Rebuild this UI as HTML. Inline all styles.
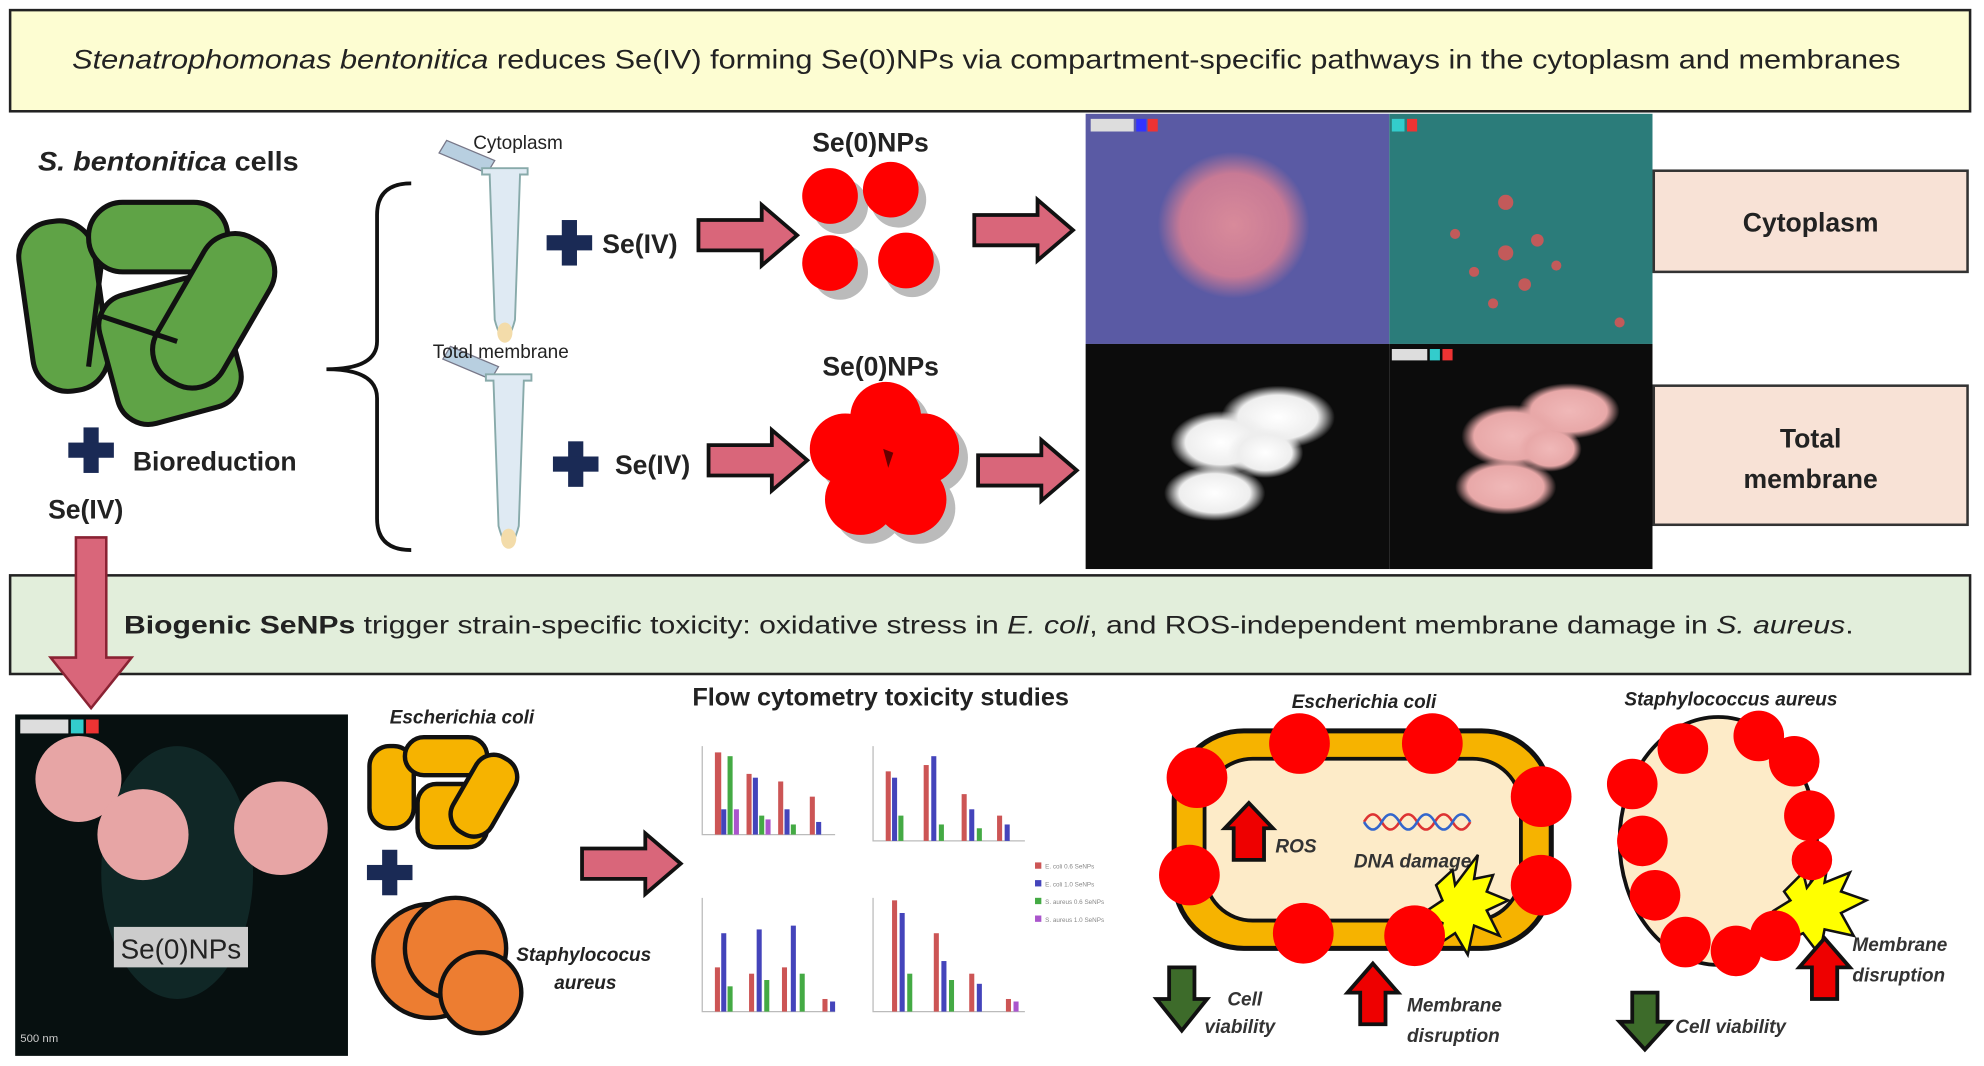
<!DOCTYPE html>
<html><head><meta charset="utf-8"><style>
html,body{margin:0;padding:0;background:#fff;width:1984px;height:1066px;overflow:hidden}
svg{display:block}
text{font-family:"Liberation Sans",sans-serif}
</style></head><body>
<svg width="1984" height="1066" viewBox="0 0 1568 843" preserveAspectRatio="none" xmlns="http://www.w3.org/2000/svg">
<defs>
<radialGradient id="pk" cx="50%" cy="50%" r="50%"><stop offset="0" stop-color="#d88a9a"/><stop offset="0.7" stop-color="#c87a95"/><stop offset="1" stop-color="#c87a95" stop-opacity="0"/></radialGradient>
<radialGradient id="wh" cx="50%" cy="50%" r="50%"><stop offset="0" stop-color="#fff"/><stop offset="0.7" stop-color="#eee"/><stop offset="1" stop-color="#eee" stop-opacity="0"/></radialGradient>
<radialGradient id="pk2" cx="50%" cy="50%" r="50%"><stop offset="0" stop-color="#f0b8b8"/><stop offset="0.75" stop-color="#e8a8a8"/><stop offset="1" stop-color="#e8a8a8" stop-opacity="0"/></radialGradient>
<g id="arr"><path d="M0,-12 L50,-12 L50,-24 L78,0 L50,24 L50,12 L0,12 Z" fill="#d9667a" stroke="#111" stroke-width="3"/></g>
<g id="tube"><path d="M-10,4 L-48,-12 L-42,-22 L-4,-6Z" fill="#b8cfe0" stroke="#778" stroke-width="1"/><path d="M-14,0 L22,0 L22,5 L16,5 L12,120 Q4,150 -4,120 L-8,5 L-14,5Z" fill="#dfeaf3" stroke="#8aa" stroke-width="1.5"/><ellipse cx="4" cy="130" rx="6" ry="8" fill="#f3dcaa"/></g>
<g id="plus"><rect x="-6" y="-18" width="12" height="36" fill="#1a2a55"/><rect x="-18" y="-6" width="36" height="12" fill="#1a2a55"/></g>
</defs>
<rect x="8" y="8" width="1549" height="80" fill="#fdfdd2" stroke="#222" stroke-width="2"/>
<text x="57" y="54" font-size="21" textLength="1445" lengthAdjust="spacingAndGlyphs" fill="#222"><tspan font-style="italic">Stenatrophomonas bentonitica</tspan> reduces Se(IV) forming Se(0)NPs via compartment-specific pathways in the cytoplasm and membranes</text>
<text x="30" y="135" font-size="21" font-weight="bold" fill="#222" textLength="206" lengthAdjust="spacingAndGlyphs"><tspan font-style="italic">S. bentonitica</tspan> cells</text>
<g fill="#5fa346" stroke="#111" stroke-width="4">
<rect x="20" y="175" width="60" height="135" rx="28" transform="rotate(-8 47 240)"/>
<rect x="70" y="160" width="110" height="55" rx="27"/>
<rect x="85" y="225" width="100" height="105" rx="25" transform="rotate(-15 135 280)"/>
<rect x="138" y="180" width="60" height="130" rx="28" transform="rotate(30 167 247)"/>
<path d="M80,210 L70,290 M80,250 L140,270" fill="none"/>
</g>
<use href="#plus" x="72" y="356"/>
<text x="105" y="372" font-size="21" font-weight="bold" fill="#222">Bioreduction</text>
<text x="38" y="410" font-size="21" font-weight="bold" fill="#222">Se(IV)</text>
<path d="M325,145 Q298,145 298,170 L298,270 Q298,292 258,292 Q298,292 298,315 L298,410 Q298,435 325,435" fill="none" stroke="#111" stroke-width="3"/>
<use href="#tube" x="395" y="133"/>
<text x="374" y="118" font-size="15" fill="#222">Cytoplasm</text>
<use href="#tube" x="398" y="296"/>
<text x="342" y="283" font-size="15" fill="#222">Total membrane</text>
<use href="#plus" x="450" y="192"/>
<text x="476" y="200" font-size="21" font-weight="bold" fill="#222">Se(IV)</text>
<use href="#arr" x="552" y="186"/>
<use href="#plus" x="455" y="367"/>
<text x="486" y="375" font-size="21" font-weight="bold" fill="#222">Se(IV)</text>
<use href="#arr" x="560" y="364"/>
<text x="688" y="120" font-size="21" font-weight="bold" text-anchor="middle" fill="#222">Se(0)NPs</text>
<g fill="#bbb"><circle cx="664" cy="163" r="22"/><circle cx="710" cy="158" r="22"/><circle cx="664" cy="215" r="22"/><circle cx="721" cy="213" r="22"/></g>
<g fill="#f00"><circle cx="656" cy="155" r="22"/><circle cx="704" cy="150" r="22"/><circle cx="656" cy="208" r="22"/><circle cx="716" cy="206" r="22"/></g>
<text x="696" y="297" font-size="21" font-weight="bold" text-anchor="middle" fill="#222">Se(0)NPs</text>
<g fill="#bbb" transform="translate(7,7)"><circle cx="700" cy="330" r="28"/><circle cx="730" cy="355" r="28"/><circle cx="720" cy="395" r="28"/><circle cx="680" cy="395" r="28"/><circle cx="668" cy="355" r="28"/></g>
<g fill="#f00"><circle cx="700" cy="330" r="28"/><circle cx="730" cy="355" r="28"/><circle cx="720" cy="395" r="28"/><circle cx="680" cy="395" r="28"/><circle cx="668" cy="355" r="28"/><circle cx="700" cy="365" r="25"/></g>
<path d="M698,355 L706,358 L702,370Z" fill="#600"/>
<use href="#arr" x="770" y="182"/>
<use href="#arr" x="773" y="372"/>
<rect x="858" y="90" width="240" height="182" fill="#5a5aa4"/>
<ellipse cx="975" cy="178" rx="60" ry="58" fill="url(#pk)"/>
<rect x="862" y="94" width="34" height="10" fill="#ddd"/><rect x="898" y="94" width="8" height="10" fill="#33f"/><rect x="907" y="94" width="8" height="10" fill="#e33"/>
<rect x="1098" y="90" width="208" height="182" fill="#2b7c7a"/>
<g fill="#c25a5a"><circle cx="1190" cy="160" r="6"/><circle cx="1215" cy="190" r="5"/><circle cx="1190" cy="200" r="6"/><circle cx="1165" cy="215" r="4"/><circle cx="1205" cy="225" r="5"/><circle cx="1150" cy="185" r="4"/><circle cx="1230" cy="210" r="4"/><circle cx="1180" cy="240" r="4"/><circle cx="1280" cy="255" r="4"/></g>
<rect x="1100" y="94" width="10" height="10" fill="#3cc"/><rect x="1112" y="94" width="8" height="10" fill="#e33"/>
<rect x="858" y="272" width="240" height="178" fill="#0c0c0c"/>
<g fill="url(#wh)"><ellipse cx="1010" cy="330" rx="45" ry="25"/><ellipse cx="965" cy="350" rx="40" ry="25"/><ellipse cx="960" cy="390" rx="40" ry="22"/><ellipse cx="1000" cy="358" rx="30" ry="20"/></g>
<rect x="1098" y="272" width="208" height="178" fill="#0c0c0c"/>
<g fill="url(#pk2)"><ellipse cx="1240" cy="325" rx="40" ry="22"/><ellipse cx="1195" cy="345" rx="40" ry="25"/><ellipse cx="1190" cy="385" rx="40" ry="22"/><ellipse cx="1225" cy="355" rx="25" ry="18"/></g>
<rect x="1100" y="276" width="28" height="9" fill="#ddd"/><rect x="1130" y="276" width="8" height="9" fill="#3cc"/><rect x="1140" y="276" width="8" height="9" fill="#e33"/>
<rect x="1307" y="135" width="248" height="80" fill="#f8e2d6" stroke="#333" stroke-width="2"/>
<text x="1431" y="183" font-size="21" font-weight="bold" text-anchor="middle" fill="#222">Cytoplasm</text>
<rect x="1307" y="305" width="248" height="110" fill="#f8e2d6" stroke="#333" stroke-width="2"/>
<text x="1431" y="354" font-size="21" font-weight="bold" text-anchor="middle" fill="#222">Total</text>
<text x="1431" y="386" font-size="21" font-weight="bold" text-anchor="middle" fill="#222">membrane</text>
<rect x="8" y="455" width="1549" height="78" fill="#e2eedb" stroke="#222" stroke-width="2"/>
<text x="98" y="501" font-size="20" fill="#222" textLength="1367" lengthAdjust="spacingAndGlyphs"><tspan font-weight="bold">Biogenic SeNPs</tspan>  trigger strain-specific toxicity: oxidative stress in <tspan font-style="italic">E. coli</tspan>, and ROS-independent membrane damage in <tspan font-style="italic">S. aureus</tspan>.</text>
<path d="M60,425 L84,425 L84,520 L104,520 L72,560 L40,520 L60,520Z" fill="#d9667a" stroke="#8a2233" stroke-width="2"/>
<rect x="12" y="565" width="263" height="270" fill="#071010"/>
<ellipse cx="140" cy="690" rx="60" ry="100" fill="#1d4a48" opacity="0.4"/>
<circle cx="62" cy="616" r="34" fill="#e7a5a5"/><circle cx="113" cy="660" r="36" fill="#e7a5a5"/><circle cx="222" cy="655" r="37" fill="#e7a5a5"/>
<rect x="16" y="569" width="38" height="11" fill="#ddd"/><rect x="56" y="569" width="10" height="11" fill="#3cc"/><rect x="68" y="569" width="10" height="11" fill="#e33"/>
<rect x="90" y="733" width="106" height="32" fill="#ccc"/>
<text x="143" y="758" font-size="22" text-anchor="middle" fill="#222">Se(0)NPs</text>
<text x="16" y="824" font-size="9" fill="#ccc">500 nm</text>
<text x="308" y="572" font-size="15" font-weight="bold" font-style="italic" fill="#222">Escherichia coli</text>
<g fill="#f6b300" stroke="#111" stroke-width="3.5">
<rect x="292" y="590" width="35" height="65" rx="16"/>
<rect x="320" y="583" width="65" height="30" rx="15"/>
<rect x="330" y="620" width="55" height="50" rx="15"/>
<rect x="365" y="595" width="35" height="68" rx="16" transform="rotate(30 382 629)"/>
</g>
<use href="#plus" x="308" y="690"/>
<g fill="#ed7d31" stroke="#111" stroke-width="3.5">
<circle cx="340" cy="760" r="45"/><circle cx="360" cy="750" r="40"/><circle cx="380" cy="785" r="32"/>
</g>
<text x="408" y="760" font-size="15" font-weight="bold" font-style="italic" fill="#222">Staphylococus</text>
<text x="438" y="782" font-size="15" font-weight="bold" font-style="italic" fill="#222">aureus</text>
<use href="#arr" x="460" y="683"/>
<text x="696" y="558" font-size="20" font-weight="bold" text-anchor="middle" fill="#222">Flow cytometry toxicity studies</text>
<g stroke="#bbb" stroke-width="1" fill="none">
<path d="M555,590 L555,660 L660,660"/><path d="M690,590 L690,665 L810,665"/>
<path d="M555,710 L555,800 L660,800"/><path d="M690,710 L690,800 L810,800"/>
</g>
<g>
<rect x="565" y="595" width="5" height="65" fill="#c55"/><rect x="570" y="640" width="4" height="20" fill="#44b"/><rect x="575" y="598" width="4" height="62" fill="#4a4"/><rect x="580" y="640" width="4" height="20" fill="#a5c"/>
<rect x="590" y="612" width="4" height="48" fill="#c55"/><rect x="595" y="615" width="4" height="45" fill="#44b"/><rect x="600" y="645" width="4" height="15" fill="#4a4"/><rect x="605" y="648" width="4" height="12" fill="#a5c"/>
<rect x="615" y="618" width="4" height="42" fill="#c55"/><rect x="620" y="640" width="4" height="20" fill="#44b"/><rect x="625" y="652" width="4" height="8" fill="#4a4"/>
<rect x="640" y="630" width="4" height="30" fill="#c55"/><rect x="645" y="650" width="4" height="10" fill="#44b"/>
<rect x="700" y="610" width="4" height="55" fill="#c55"/><rect x="705" y="615" width="4" height="50" fill="#44b"/><rect x="710" y="645" width="4" height="20" fill="#4a4"/>
<rect x="730" y="605" width="4" height="60" fill="#c55"/><rect x="736" y="598" width="4" height="67" fill="#44b"/><rect x="742" y="652" width="4" height="13" fill="#4a4"/>
<rect x="760" y="628" width="4" height="37" fill="#c55"/><rect x="766" y="640" width="4" height="25" fill="#44b"/><rect x="772" y="655" width="4" height="10" fill="#4a4"/>
<rect x="788" y="645" width="4" height="20" fill="#c55"/><rect x="794" y="652" width="4" height="13" fill="#44b"/>
<rect x="565" y="765" width="4" height="35" fill="#c55"/><rect x="570" y="738" width="4" height="62" fill="#44b"/><rect x="575" y="780" width="4" height="20" fill="#4a4"/>
<rect x="592" y="770" width="4" height="30" fill="#c55"/><rect x="598" y="735" width="4" height="65" fill="#44b"/><rect x="604" y="775" width="4" height="25" fill="#4a4"/>
<rect x="618" y="765" width="4" height="35" fill="#c55"/><rect x="625" y="732" width="4" height="68" fill="#44b"/><rect x="632" y="770" width="4" height="30" fill="#4a4"/>
<rect x="650" y="790" width="4" height="10" fill="#c55"/><rect x="656" y="792" width="4" height="8" fill="#44b"/>
<rect x="705" y="712" width="4" height="88" fill="#c55"/><rect x="711" y="722" width="4" height="78" fill="#44b"/><rect x="717" y="770" width="4" height="30" fill="#4a4"/>
<rect x="738" y="738" width="4" height="62" fill="#c55"/><rect x="744" y="760" width="4" height="40" fill="#44b"/><rect x="750" y="775" width="4" height="25" fill="#4a4"/>
<rect x="766" y="770" width="4" height="30" fill="#c55"/><rect x="772" y="778" width="4" height="22" fill="#44b"/>
<rect x="795" y="790" width="4" height="10" fill="#c55"/><rect x="801" y="792" width="4" height="8" fill="#a5c"/>
</g>
<g font-size="5" fill="#888"><rect x="818" y="682" width="5" height="5" fill="#c55"/><text x="826" y="687">E. coli 0.6 SeNPs</text><rect x="818" y="696" width="5" height="5" fill="#44b"/><text x="826" y="701">E. coli 1.0 SeNPs</text><rect x="818" y="710" width="5" height="5" fill="#4a4"/><text x="826" y="715">S. aureus 0.6 SeNPs</text><rect x="818" y="724" width="5" height="5" fill="#a5c"/><text x="826" y="729">S. aureus 1.0 SeNPs</text></g>
<text x="1078" y="560" font-size="15" font-weight="bold" font-style="italic" text-anchor="middle" fill="#222">Escherichia coli</text>
<rect x="928" y="578" width="298" height="172" rx="55" fill="#f6b300" stroke="#111" stroke-width="4"/>
<rect x="952" y="600" width="250" height="128" rx="38" fill="#fdebc8" stroke="#111" stroke-width="3"/>
<path d="M975,680 L975,655 L968,655 L987,635 L1006,655 L999,655 L999,680Z" fill="#e00" stroke="#111" stroke-width="3"/>
<text x="1008" y="674" font-size="15" font-weight="bold" font-style="italic" fill="#333">ROS</text>
<path d="M1078,650 q7,-12 14,0 t14,0 t14,0 t14,0 t14,0 t14,0" fill="none" stroke="#d33" stroke-width="2"/>
<path d="M1078,650 q7,12 14,0 t14,0 t14,0 t14,0 t14,0 t14,0" fill="none" stroke="#36c" stroke-width="2"/>
<text x="1070" y="686" font-size="15" font-weight="bold" font-style="italic" fill="#333">DNA damage</text>
<path d="M1135,700 L1148,688 L1150,700 L1168,676 L1165,695 L1180,692 L1175,705 L1192,712 L1175,720 L1185,740 L1165,732 L1160,755 L1150,738 L1135,748 L1140,730 L1125,722 L1140,712Z" fill="#ff0" stroke="#111" stroke-width="2"/>
<g fill="#f00">
<circle cx="1027" cy="588" r="24"/><circle cx="1132" cy="588" r="24"/><circle cx="946" cy="615" r="24"/><circle cx="1218" cy="630" r="24"/><circle cx="940" cy="692" r="24"/><circle cx="1218" cy="700" r="24"/><circle cx="1030" cy="738" r="24"/><circle cx="1118" cy="740" r="24"/>
</g>
<path d="M924,765 L924,790 L914,790 L934,815 L954,790 L944,790 L944,765Z" fill="#3d6b2a" stroke="#111" stroke-width="3"/>
<text x="970" y="795" font-size="15" font-weight="bold" font-style="italic" fill="#333">Cell</text>
<text x="952" y="817" font-size="15" font-weight="bold" font-style="italic" fill="#333">viability</text>
<path d="M1075,810 L1075,785 L1065,785 L1085,762 L1105,785 L1095,785 L1095,810Z" fill="#e00" stroke="#111" stroke-width="3"/>
<text x="1112" y="800" font-size="15" font-weight="bold" font-style="italic" fill="#333">Membrane</text>
<text x="1112" y="824" font-size="15" font-weight="bold" font-style="italic" fill="#333">disruption</text>
<text x="1368" y="558" font-size="15" font-weight="bold" font-style="italic" text-anchor="middle" fill="#222">Staphylococcus aureus</text>
<ellipse cx="1358" cy="665" rx="78" ry="98" fill="#fdebc8" stroke="#111" stroke-width="3"/>
<path d="M1410,705 L1425,690 L1428,702 L1445,680 L1442,698 L1462,690 L1455,705 L1475,712 L1455,722 L1465,740 L1442,735 L1438,755 L1425,738 L1410,745 L1415,728 L1402,720 L1415,712Z" fill="#ff0" stroke="#111" stroke-width="2"/>
<g fill="#f00">
<circle cx="1290" cy="620" r="20"/><circle cx="1330" cy="592" r="20"/><circle cx="1390" cy="582" r="20"/><circle cx="1418" cy="602" r="20"/><circle cx="1430" cy="645" r="20"/><circle cx="1298" cy="665" r="20"/><circle cx="1308" cy="708" r="20"/><circle cx="1332" cy="745" r="20"/><circle cx="1372" cy="752" r="20"/><circle cx="1403" cy="740" r="20"/><circle cx="1432" cy="680" r="16"/>
</g>
<path d="M1432,790 L1432,765 L1422,765 L1442,742 L1462,765 L1452,765 L1452,790Z" fill="#e00" stroke="#111" stroke-width="3"/>
<text x="1464" y="752" font-size="15" font-weight="bold" font-style="italic" fill="#333">Membrane</text>
<text x="1464" y="776" font-size="15" font-weight="bold" font-style="italic" fill="#333">disruption</text>
<path d="M1290,785 L1290,808 L1280,808 L1300,830 L1320,808 L1310,808 L1310,785Z" fill="#3d6b2a" stroke="#111" stroke-width="3"/>
<text x="1324" y="817" font-size="15" font-weight="bold" font-style="italic" fill="#333">Cell viability</text>
</svg>
</body></html>
